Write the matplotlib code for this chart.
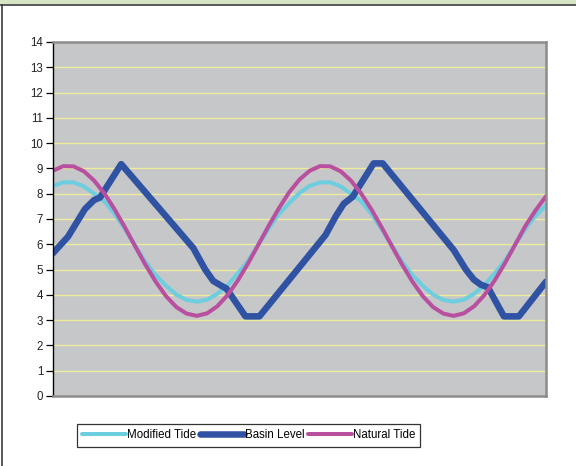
import numpy as np
import matplotlib
matplotlib.use("Agg")
import matplotlib.pyplot as plt
from matplotlib.patches import Rectangle
from matplotlib.lines import Line2D

plt.rcParams['font.family'] = ['Liberation Sans', 'DejaVu Sans']

# hours, every half hour over one day (tides)
hours = np.arange(0, 24.5, 0.5)

modified_tide = [8.31, 8.45, 8.45, 8.29, 8.00, 7.70, 7.20, 6.60, 5.95, 5.30,
                 4.78, 4.36, 4.01, 3.80, 3.73, 3.81, 4.04, 4.39, 4.85, 5.35,
                 5.98, 6.62, 7.20, 7.63, 8.03, 8.31, 8.45, 8.45, 8.29, 8.00,
                 7.70, 7.20, 6.60, 5.95, 5.30, 4.78, 4.36, 4.01, 3.80, 3.73,
                 3.81, 4.04, 4.39, 4.85, 5.35, 5.98, 6.62, 7.13, 7.55]

natural_tide = [8.91, 9.09, 9.08, 8.89, 8.52, 8.01, 7.38, 6.67, 5.92, 5.19,
                4.52, 3.95, 3.52, 3.26, 3.17, 3.27, 3.55, 3.99, 4.57, 5.25,
                5.99, 6.73, 7.43, 8.06, 8.56, 8.91, 9.09, 9.08, 8.89, 8.52,
                8.01, 7.38, 6.67, 5.92, 5.19, 4.52, 3.95, 3.52, 3.26, 3.17,
                3.27, 3.55, 3.99, 4.57, 5.25, 5.99, 6.73, 7.35, 7.90]

# basin level read at its own turning points
basin_hours = [0.0, 0.73, 1.22, 1.56, 2.0, 2.29, 3.32, 6.83, 7.41, 7.8,
               8.15, 8.44, 9.37, 10.05, 13.27, 13.76, 14.15, 14.59, 15.61, 16.05,
               19.51, 20.1, 20.49, 20.83, 21.17, 21.95, 22.68, 24.0]
basin_level = [5.65, 6.30, 6.95, 7.40, 7.75, 7.85, 9.17, 5.85, 5.00, 4.55,
               4.38, 4.25, 3.15, 3.15, 6.37, 7.10, 7.60, 7.88, 9.20, 9.20,
               5.77, 5.00, 4.60, 4.40, 4.30, 3.15, 3.15, 4.52]

y_ticks = list(range(0, 15))

fig = plt.figure(figsize=(5.76, 4.66), dpi=100)
fig.patch.set_facecolor('white')

# frame of the chart area (green strip on top, dark border)
fig.add_artist(Rectangle((0, 1 - 4 / 466), 1, 4 / 466, transform=fig.transFigure,
                         facecolor='#d6e6c4', edgecolor='none'))
fig.add_artist(Line2D([0, 1], [1 - 5 / 466, 1 - 5 / 466], transform=fig.transFigure,
                      color='#3c3c3c', lw=1.2))
fig.add_artist(Line2D([1.5 / 576, 1.5 / 576], [0, 1 - 5 / 466], transform=fig.transFigure,
                      color='#3c3c3c', lw=1.2))

ax = fig.add_axes([53 / 576, 70 / 466, 493 / 576, 354 / 466])
ax.set_facecolor('#c6c7c9')

ax.plot(hours, modified_tide, color='#6ccede', lw=2.9, label='Modified Tide',
        solid_joinstyle='round', solid_capstyle='round')
ax.plot(basin_hours, basin_level, color='#2f52a3', lw=4.7, label='Basin Level',
        solid_joinstyle='round', solid_capstyle='round')
ax.plot(hours, natural_tide, color='#b8509f', lw=2.9, label='Natural Tide',
        solid_joinstyle='round', solid_capstyle='round')

ax.set_xlim(0, 24)
ax.set_ylim(0, 14)
ax.set_yticks(y_ticks)
ax.set_xticks([])
ax.grid(axis='y', color='#ecec9c', lw=1.0)
ax.set_axisbelow(True)
ax.tick_params(axis='y', direction='out', length=5, width=0.9, pad=2,
               labelsize=8.3, colors='black', labelcolor='#222222')

for side in ['top', 'right', 'bottom']:
    ax.spines[side].set_color('#8c8c8c')
    ax.spines[side].set_linewidth(1.8)
ax.spines['left'].set_color('black')
ax.spines['left'].set_linewidth(1.0)

leg = fig.legend(loc='center left', bbox_to_anchor=(77 / 576, 1 - 435.5 / 466),
                 ncol=3, fontsize=8.3, handlelength=3.8, handletextpad=0.1,
                 columnspacing=0.3, borderpad=0.45, borderaxespad=0, frameon=True,
                 fancybox=False)
leg.get_frame().set_edgecolor('black')
leg.get_frame().set_linewidth(0.9)

fig.savefig('out.png', dpi=100)
